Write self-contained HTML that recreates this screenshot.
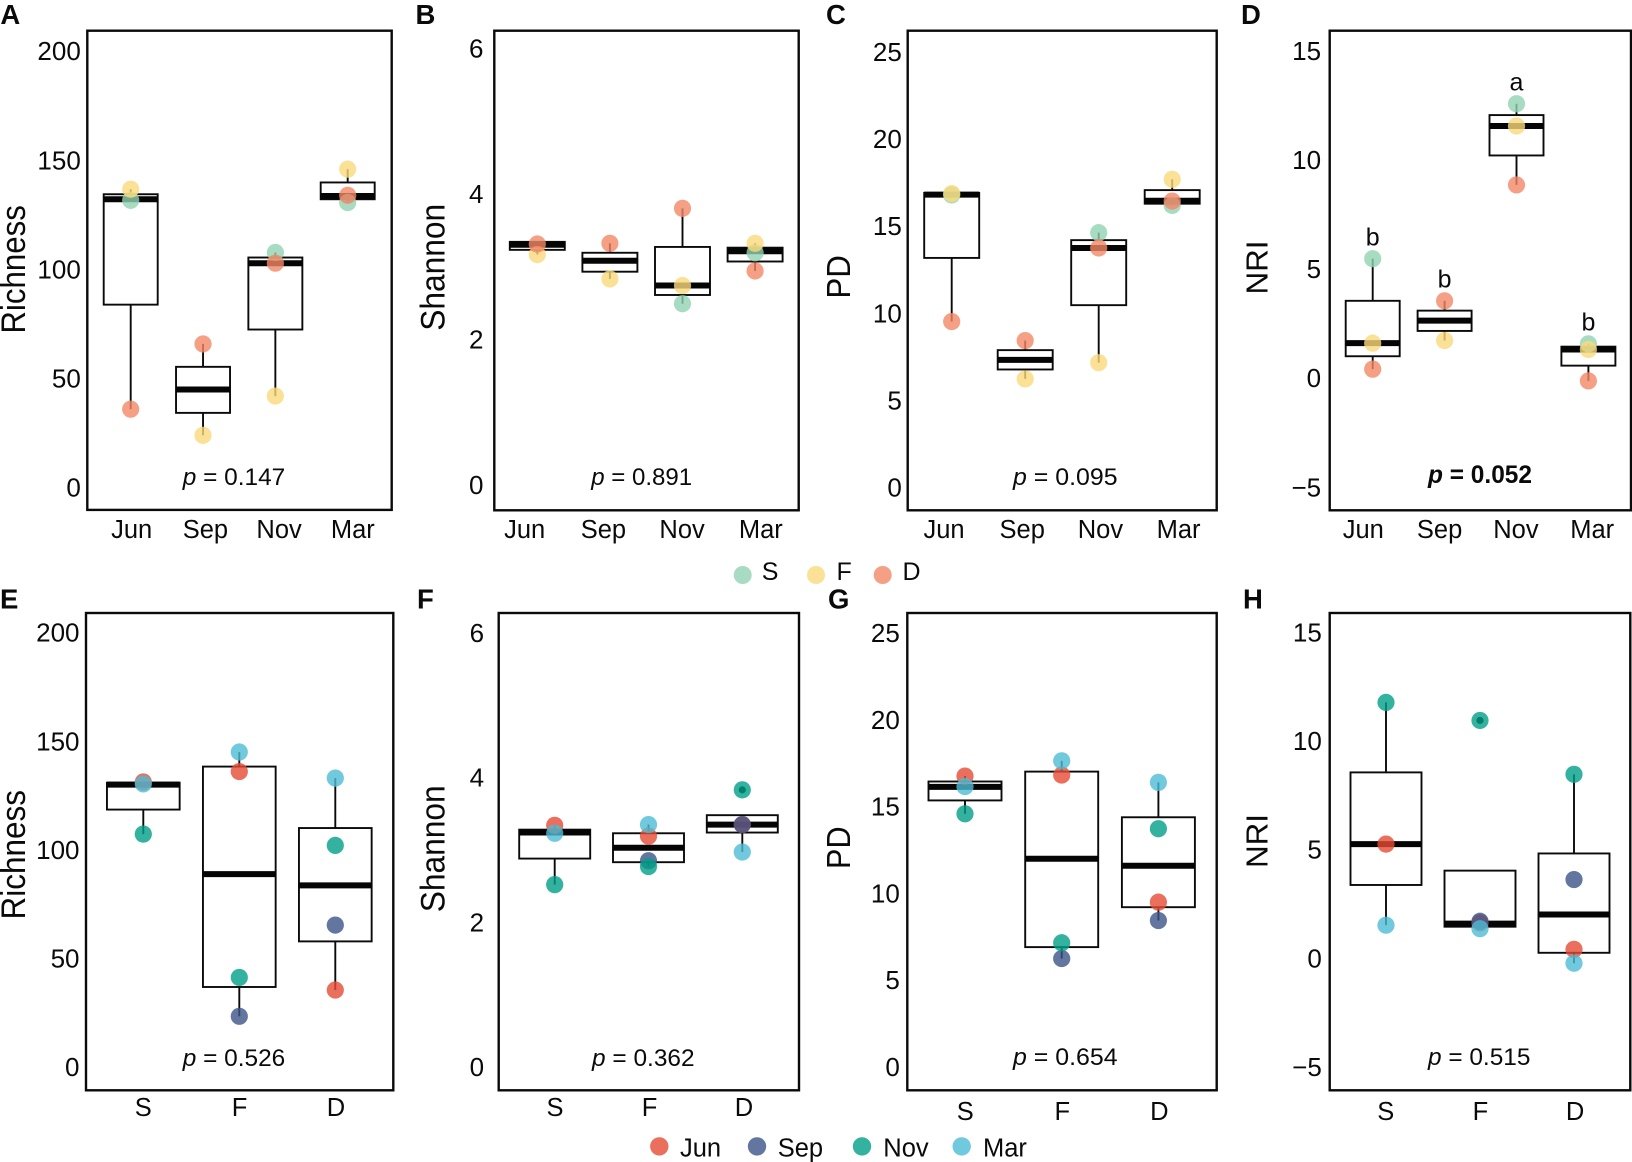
<!DOCTYPE html>
<html lang="en">
<head>
<meta charset="utf-8">
<title>Diversity boxplots by month and depth</title>
<style>
html,body{margin:0;padding:0;background:#fff;}
svg{display:block;}
text{font-family:"Liberation Sans",Arial,sans-serif;fill:#0a0a0a;}
</style>
</head>
<body>
<svg id="figure" xmlns="http://www.w3.org/2000/svg" width="1632" height="1162" viewBox="0 0 1632 1162">
  <rect x="0" y="0" width="1632" height="1162" fill="#fff"/>
</svg>
<script>
// ---------- categories ----------
const monthCategories = ['Jun', 'Sep', 'Nov', 'Mar'];
const depthCategories = ['S', 'F', 'D'];
const depthColors = ['#92D3B3', '#FAD97C', '#F28766'];
const monthColors = ['#E64B35', '#3C5488', '#00A087', '#4DBBD5'];

// ---------- tick labels ----------
const richnessTicks = [0, 50, 100, 150, 200];
const shannonTicks = [0, 2, 4, 6];
const pdTicks = [0, 5, 10, 15, 20, 25];
const nriTicks = [-5, 0, 5, 10, 15];

// ---------- panel A: richness by month ----------
const aS = [131.6, null, 107.7, 130.6];
const aF = [136.7, 23.9, 41.9, 145.9];
const aD = [35.9, 65.8, 102.8, 133.9];
const aQ1 = [83.8, 34.2, 72.4, 132.1];
const aMedian = [132.1, 44.9, 102.8, 133.6];
const aQ3 = [134.4, 55.3, 105.4, 139.8];

// ---------- panel B: Shannon by month ----------
const bS = [null, null, 2.49, 3.19];
const bF = [3.165, 2.83, 2.74, 3.32];
const bD = [3.31, 3.32, 3.80, 2.94];
const bQ1 = [3.23, 2.93, 2.61, 3.07];
const bMedian = [3.30, 3.08, 2.74, 3.21];
const bQ3 = [3.34, 3.19, 3.27, 3.26];

// ---------- panel C: PD by month ----------
const cS = [16.78, null, 14.62, 16.18];
const cF = [16.86, 6.23, 7.16, 17.68];
const cD = [9.52, 8.43, 13.74, 16.43];
const cQ1 = [13.17, 6.77, 10.46, 16.28];
const cMedian = [16.8, 7.32, 13.74, 16.45];
const cQ3 = [16.9, 7.88, 14.19, 17.06];

// ---------- panel D: NRI by month ----------
const dS = [5.47, null, 12.57, 1.57];
const dF = [1.60, 1.72, 11.55, 1.31];
const dD = [0.41, 3.54, 8.85, -0.13];
const dQ1 = [1.0, 2.16, 10.2, 0.57];
const dMedian = [1.6, 2.63, 11.55, 1.31];
const dQ3 = [3.54, 3.09, 12.05, 1.44];
const dSignificance = ['b', 'b', 'a', 'b'];

// ---------- panel E: richness by depth ----------
const eJun = [131.2, 136, 35.4];
const eSep = [null, 23.3, 65.3];
const eNov = [107.2, 41.2, 102];
const eMar = [130.3, 145, 133];
const eQ1 = [118.5, 36.8, 57.8];
const eMedian = [130, 88.8, 83.6];
const eQ3 = [130.9, 138.3, 110];

// ---------- panel F: Shannon by depth ----------
const fJun = [3.34, 3.19, 3.35];
const fSep = [null, 2.85, 3.35];
const fNov = [2.52, 2.77, 3.83];
const fMar = [3.23, 3.35, 2.97];
const fQ1 = [2.88, 2.83, 3.24];
const fMedian = [3.24, 3.03, 3.35];
const fQ3 = [3.28, 3.23, 3.48];
const fOutliers = [null, null, 3.83];

// ---------- panel G: PD by depth ----------
const gJun = [16.75, 16.81, 9.49];
const gSep = [null, 6.24, 8.43];
const gNov = [14.58, 7.15, 13.72];
const gMar = [16.15, 17.63, 16.39];
const gQ1 = [15.35, 6.9, 9.2];
const gMedian = [16.13, 11.99, 11.59];
const gQ3 = [16.44, 17.01, 14.38];

// ---------- panel H: NRI by depth ----------
const hJun = [5.25, 1.63, 0.41];
const hSep = [null, 1.7, 3.62];
const hNov = [11.77, 10.94, 8.46];
const hMar = [1.52, 1.36, -0.23];
const hQ1 = [3.37, 1.45, 0.25];
const hMedian = [5.25, 1.59, 2.01];
const hQ3 = [8.55, 4.03, 4.82];
const hOutliers = [null, 10.94, null];

// ---------- p-value text ----------
const pValues = ['0.147', '0.891', '0.095', '0.052', '0.526', '0.362', '0.654', '0.515'];

// ---------- drawing ----------
const SVGNS = 'http://www.w3.org/2000/svg';
const root = document.getElementById('figure');

function shape(parent, tag, name, attrs) {
  const el = document.createElementNS(SVGNS, tag);
  
  
  for (const k in attrs) el.setAttribute(k, attrs[k]);
  parent.appendChild(el);
  return el;
}

function label(parent, name, str, x, y, size, anchor, len, extra) {
  const attrs = Object.assign({x: x, y: y, 'font-size': size, 'text-anchor': anchor}, extra || {});
  if (len) {
    attrs.textLength = len;
    attrs.lengthAdjust = 'spacingAndGlyphs';
  }
  const el = shape(parent, 'text', name, attrs);
  el.textContent = str;
  return el;
}

function drawPanel(p) {
  const g = shape(root, 'g', 'panel-' + p.id.toLowerCase(), {});
  const y = v => p.py1 + (v - p.d1) * (p.py2 - p.py1) / (p.d2 - p.d1);
  const x = i => p.xc0 + i * p.xStep;
  const n = p.categories.length;

  // panel letter
  label(g, 'panel-letter-' + p.id.toLowerCase(), p.id, p.letterX, p.letterY, 27.5, 'start', null, {'font-weight': 'bold'});

  // y title
  const tx = p.titleX, ty = p.titleY;
  label(g, 'y-axis-title', p.title, 0, 0, p.titleSize, 'middle', p.titleLen, {transform: 'translate(' + tx + ' ' + ty + ') rotate(-90)'});

  // y ticks
  p.ticks.forEach(t => {
    const s = t < 0 ? '\u2212' + Math.abs(t) : String(t);
    label(g, 'y-tick-label', s, p.tickX + 0.8, y(t) + 9.1, 26, 'end');
  });

  // x labels
  p.categories.forEach((c, i) => {
    label(g, 'x-tick-label', c, p.lab0 + i * p.labStep, p.labY, p.labSize, 'middle');
  });

  // boxplots
  for (let i = 0; i < n; i++) {
    const vals = p.series.map(s => s[i]).filter(v => v !== null);
    const out = p.outliers ? p.outliers[i] : null;
    const inl = vals.filter(v => v !== out);
    const hi = Math.max.apply(null, inl), lo = Math.min.apply(null, inl);
    const cx = x(i);
    if (hi > p.q3[i]) shape(g, 'line', 'whisker-upper', {x1: cx, x2: cx, y1: y(p.q3[i]), y2: y(hi), stroke: '#0a0a0a', 'stroke-width': 1.9});
    if (lo < p.q1[i]) shape(g, 'line', 'whisker-lower', {x1: cx, x2: cx, y1: y(p.q1[i]), y2: y(lo), stroke: '#0a0a0a', 'stroke-width': 1.9});
    shape(g, 'rect', 'box', {x: cx - p.boxW / 2, y: y(p.q3[i]), width: p.boxW, height: y(p.q1[i]) - y(p.q3[i]), fill: '#fff', stroke: '#0a0a0a', 'stroke-width': 1.9});
    shape(g, 'line', 'median-line', {x1: cx - p.boxW / 2, x2: cx + p.boxW / 2, y1: y(p.median[i]), y2: y(p.median[i]), stroke: '#050505', 'stroke-width': 6});
    if (out !== null) shape(g, 'circle', 'outlier-point', {cx: cx, cy: y(out), r: 3.6, fill: '#050505'});
  }

  // points
  p.series.forEach((s, k) => {
    s.forEach((v, i) => {
      if (v === null) return;
      shape(g, 'circle', 'point-' + p.seriesNames[k].toLowerCase(), {cx: x(i), cy: y(v), r: 8.6, fill: p.colors[k], 'fill-opacity': 0.8});
    });
  });

  // significance letters
  if (p.significance) {
    p.significance.forEach((c, i) => {
      const top = Math.max.apply(null, p.series.map(s => s[i]).filter(v => v !== null));
      label(g, 'significance-letter', c, x(i), y(top) - 13.3, 25, 'middle');
    });
  }

  // p value
  const attrs = {x: p.pX, y: p.pY, 'font-size': p.pSize, 'text-anchor': 'middle', textLength: p.pLen, lengthAdjust: 'spacingAndGlyphs'};
  if (p.pBold) attrs['font-weight'] = 'bold';
  const pt = shape(g, 'text', 'p-value-label', attrs);
  const it = document.createElementNS(SVGNS, 'tspan');
  it.setAttribute('font-style', 'italic');
  it.textContent = 'p';
  pt.appendChild(it);
  pt.appendChild(document.createTextNode(' = ' + p.pText));

  // frame
  shape(g, 'rect', 'panel-frame', {x: p.left, y: p.top, width: p.right - p.left, height: p.bottom - p.top, fill: 'none', stroke: '#0a0a0a', 'stroke-width': 2.4});
}

const monthNames = ['S', 'F', 'D'];
const depthNames = ['Jun', 'Sep', 'Nov', 'Mar'];

drawPanel({id: 'A', title: 'Richness', titleX: 25, titleY: 269.4, titleSize: 34, titleLen: 128.5,
  left: 87.3, right: 391.7, top: 30.7, bottom: 509.9, d1: 0, d2: 200, py1: 487.5, py2: 51.1,
  ticks: richnessTicks, tickX: 80, categories: monthCategories, xc0: 130.7, xStep: 72.33, boxW: 54,
  lab0: 131.7, labStep: 73.7, labY: 538.2, labSize: 25.5,
  series: [aS, aF, aD], seriesNames: monthNames, colors: depthColors, q1: aQ1, median: aMedian, q3: aQ3,
  letterX: 0.4, letterY: 24, pX: 234, pY: 485, pSize: 24.5, pLen: 102.5, pText: pValues[0]});

drawPanel({id: 'B', title: 'Shannon', titleX: 444.3, titleY: 267.3, titleSize: 34, titleLen: 127,
  left: 494.3, right: 798.7, top: 30.7, bottom: 510.3, d1: 0, d2: 6, py1: 485, py2: 48.2,
  ticks: shannonTicks, tickX: 482.7, categories: monthCategories, xc0: 537.3, xStep: 72.6, boxW: 55,
  lab0: 524.7, labStep: 78.7, labY: 538.2, labSize: 25.5,
  series: [bS, bF, bD], seriesNames: monthNames, colors: depthColors, q1: bQ1, median: bMedian, q3: bQ3,
  letterX: 415.5, letterY: 24, pX: 641.7, pY: 485, pSize: 24.5, pLen: 101, pText: pValues[1]});

drawPanel({id: 'C', title: 'PD', titleX: 850, titleY: 276.9, titleSize: 33, titleLen: 43.5,
  left: 907.7, right: 1216.7, top: 30.7, bottom: 510.3, d1: 0, d2: 25, py1: 487.5, py2: 51.7,
  ticks: pdTicks, tickX: 901, categories: monthCategories, xc0: 951.7, xStep: 73.5, boxW: 55,
  lab0: 944, labStep: 78.2, labY: 538.2, labSize: 25.5,
  series: [cS, cF, cD], seriesNames: monthNames, colors: depthColors, q1: cQ1, median: cMedian, q3: cQ3,
  letterX: 826, letterY: 24, pX: 1065.3, pY: 485, pSize: 24.5, pLen: 104.5, pText: pValues[2]});

drawPanel({id: 'D', title: 'NRI', titleX: 1267.7, titleY: 267.5, titleSize: 31, titleLen: 54,
  left: 1329.7, right: 1631, top: 30.7, bottom: 510.3, d1: -5, d2: 15, py1: 487.2, py2: 50.7,
  ticks: nriTicks, tickX: 1320.3, categories: monthCategories, xc0: 1372.7, xStep: 71.9, boxW: 54,
  lab0: 1363.3, labStep: 76.3, labY: 538.2, labSize: 25.5,
  series: [dS, dF, dD], seriesNames: monthNames, colors: depthColors, q1: dQ1, median: dMedian, q3: dQ3,
  significance: dSignificance,
  letterX: 1241, letterY: 24, pX: 1480, pY: 482.9, pSize: 25, pLen: 104, pBold: true, pText: pValues[3]});

drawPanel({id: 'E', title: 'Richness', titleX: 25, titleY: 854.7, titleSize: 34, titleLen: 129.5,
  left: 86, right: 393.3, top: 613, bottom: 1090.3, d1: 0, d2: 200, py1: 1066.9, py2: 632.6,
  ticks: richnessTicks, tickX: 78.7, categories: depthCategories, xc0: 143.3, xStep: 96, boxW: 72.7,
  lab0: 143.3, labStep: 96.3, labY: 1116, labSize: 25.5,
  series: [eJun, eSep, eNov, eMar], seriesNames: depthNames, colors: monthColors, q1: eQ1, median: eMedian, q3: eQ3,
  letterX: 0, letterY: 608.5, pX: 234, pY: 1066, pSize: 24.5, pLen: 102.5, pText: pValues[4]});

drawPanel({id: 'F', title: 'Shannon', titleX: 444.3, titleY: 848.8, titleSize: 34, titleLen: 127,
  left: 498.7, right: 799, top: 613, bottom: 1090.3, d1: 0, d2: 6, py1: 1066.9, py2: 632.9,
  ticks: shannonTicks, tickX: 483.3, categories: depthCategories, xc0: 554.7, xStep: 93.8, boxW: 71,
  lab0: 555, labStep: 94.5, labY: 1116, labSize: 25.5,
  series: [fJun, fSep, fNov, fMar], seriesNames: depthNames, colors: monthColors, q1: fQ1, median: fMedian, q3: fQ3, outliers: fOutliers,
  letterX: 417, letterY: 608.5, pX: 643.3, pY: 1066, pSize: 24.5, pLen: 102.5, pText: pValues[5]});

drawPanel({id: 'G', title: 'PD', titleX: 850, titleY: 847.7, titleSize: 33, titleLen: 42.5,
  left: 907.3, right: 1216.7, top: 613, bottom: 1090.3, d1: 0, d2: 25, py1: 1066.9, py2: 632.9,
  ticks: pdTicks, tickX: 899, categories: depthCategories, xc0: 965, xStep: 96.7, boxW: 73,
  lab0: 965.3, labStep: 97, labY: 1119.9, labSize: 25.5,
  series: [gJun, gSep, gNov, gMar], seriesNames: depthNames, colors: monthColors, q1: gQ1, median: gMedian, q3: gQ3,
  letterX: 828, letterY: 608.5, pX: 1065.3, pY: 1064.9, pSize: 24.5, pLen: 104.5, pText: pValues[6]});

drawPanel({id: 'H', title: 'NRI', titleX: 1267.7, titleY: 841, titleSize: 31, titleLen: 54,
  left: 1329.7, right: 1630.3, top: 613, bottom: 1090.3, d1: -5, d2: 15, py1: 1066.9, py2: 632.2,
  ticks: nriTicks, tickX: 1321, categories: depthCategories, xc0: 1386, xStep: 94, boxW: 71,
  lab0: 1385.7, labStep: 94.7, labY: 1119.9, labSize: 25.5,
  series: [hJun, hSep, hNov, hMar], seriesNames: depthNames, colors: monthColors, q1: hQ1, median: hMedian, q3: hQ3, outliers: hOutliers,
  letterX: 1243, letterY: 608.5, pX: 1479.2, pY: 1064.9, pSize: 24.5, pLen: 102.5, pText: pValues[7]});

// ---------- legends ----------
const depthLegend = shape(root, 'g', 'depth-legend', {});
depthCategories.forEach((c, i) => {
  const dotX = [742.7, 816, 882.7][i];
  const textX = [761.7, 836.5, 902.5][i];
  shape(depthLegend, 'circle', 'legend-dot-' + c.toLowerCase(), {cx: dotX, cy: 575, r: 9, fill: depthColors[i], 'fill-opacity': 0.8});
  label(depthLegend, 'legend-label-' + c.toLowerCase(), c, textX, 580, 25, 'start');
});

const monthLegend = shape(root, 'g', 'month-legend', {});
monthCategories.forEach((c, i) => {
  const dotX = [659.3, 757, 862, 961.7][i];
  const textX = [680, 777.7, 883.3, 983];
  shape(monthLegend, 'circle', 'legend-dot-' + c.toLowerCase(), {cx: dotX, cy: 1146.4, r: 9.2, fill: monthColors[i], 'fill-opacity': 0.8});
  label(monthLegend, 'legend-label-' + c.toLowerCase(), c, textX[i], 1156.5, 25.5, 'start');
});
</script>
</body>
</html>
